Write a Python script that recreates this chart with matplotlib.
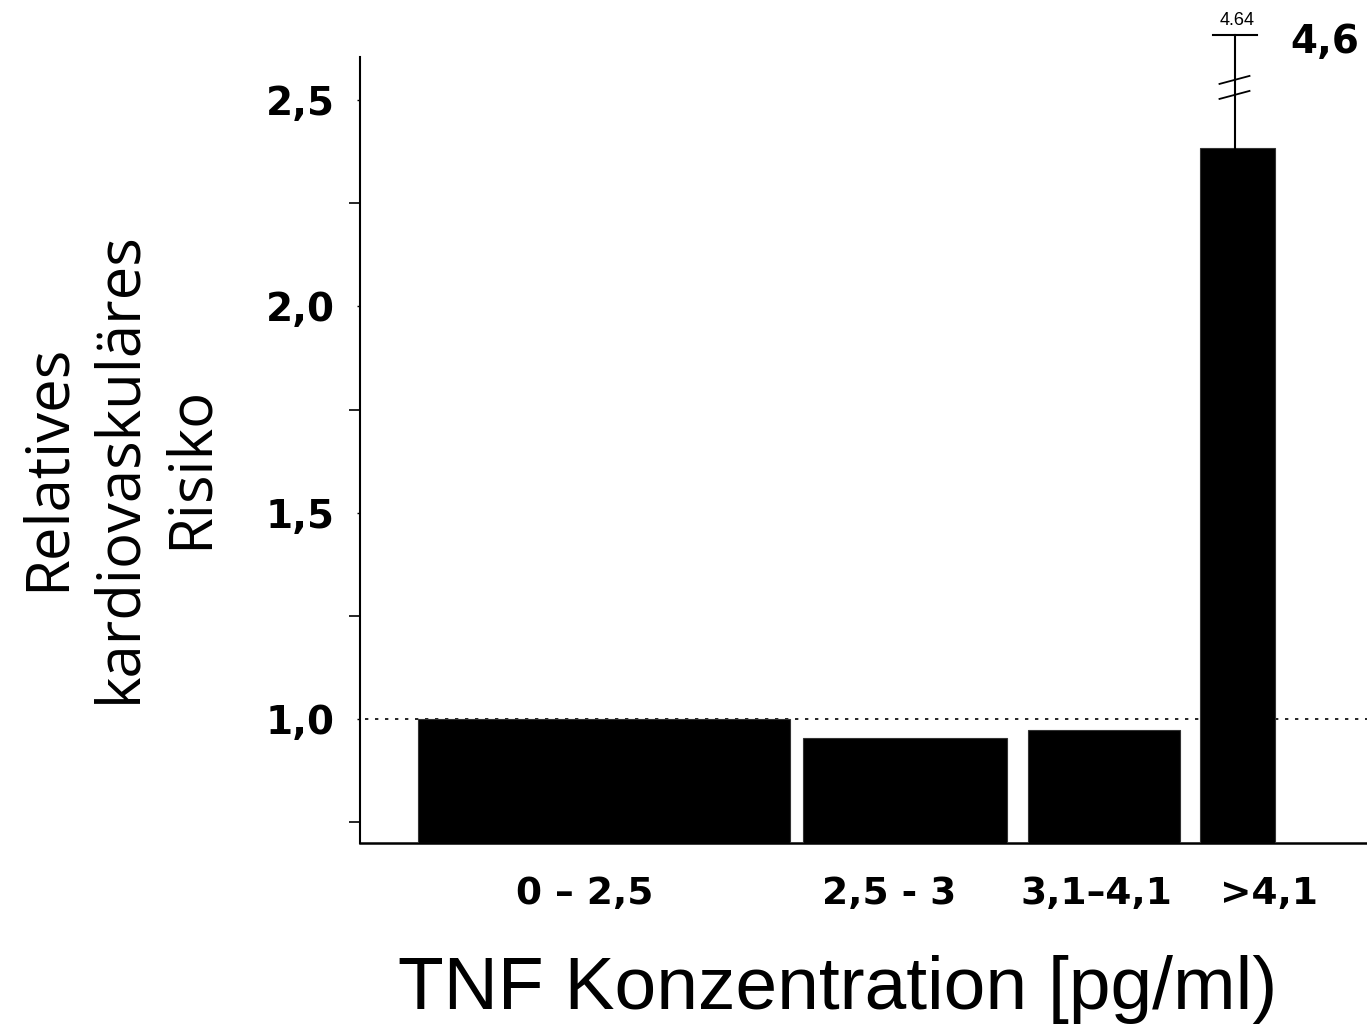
import numpy as np
import matplotlib as mpl
from matplotlib import pyplot as plt

mpl.rcParams['font.family'] = ['Liberation Sans', 'DejaVu Sans']

# data
categories = ['0 – 2,5', '2,5 - 3', '3,1–4,1', '>4,1']
risk = [1.0, 0.954, 0.973, 2.384]
upper_ci = 4.64  # upper end of the error bar on the last bar (axis is broken)
shown_label = '4,6'

# layout (x in arbitrary units = pixels from axis origin)
bar_left = [58, 443, 668, 840]
bar_width = [372, 204, 152, 75]

W, H = 1367, 1027
fig = plt.figure(figsize=(W / 100, H / 100), dpi=100)
ax = fig.add_axes([360 / W, (H - 843) / H, 1007 / W, (843 - 57) / H])

ymin, ymax = 0.70, 2.604
px = 0.5 / 206.3  # data units per pixel (y)

ax.bar(bar_left, [r - ymin for r in risk], width=bar_width, bottom=ymin,
       align='edge', color='black', edgecolor='#333333', linewidth=0.8, zorder=3)

ax.axhline(1.0, xmin=5 / 1007, color='black', linestyle=(0, (2, 4)), linewidth=1.2, zorder=1)

# error bar of last bar, running past the top of the axis
xc = bar_left[3] + bar_width[3] / 2 - 3
y_top = 2.5 + 65 * px
ax.plot([xc, xc], [risk[3], y_top], color='black', lw=1.5, clip_on=False, zorder=4)
ax.plot([xc - 22, xc + 22], [y_top, y_top], color='black', lw=1.5, clip_on=False, zorder=4)
for yb in (2.5 + 20 * px, 2.5 + 5 * px):
    ax.plot([xc - 15, xc + 15], [yb - 4 * px, yb + 4 * px], color='black', lw=1.3,
            clip_on=False, zorder=5)
ax.text(xc + 3, y_top + 6 * px, f'{upper_ci:.2f}', ha='center', va='bottom', fontsize=13,
        clip_on=False)
ax.text(930, 2.5 + 58 * px, shown_label, ha='left', va='center', fontsize=28,
        fontweight='bold', family='DejaVu Sans', clip_on=False)

ax.set_xlim(0, 1007)
ax.set_ylim(ymin, ymax)

ax.spines['right'].set_visible(False)
ax.spines['top'].set_visible(False)
ax.spines['left'].set_linewidth(1.5)
ax.spines['bottom'].set_linewidth(1.8)

ax.set_yticks([1.0, 1.5, 2.0, 2.5])
ax.set_yticklabels(['1,0', '1,5', '2,0', '2,5'], fontsize=28, fontweight='bold',
                   family='DejaVu Sans')
ax.set_yticks([0.75, 1.25, 1.75, 2.25], minor=True)
ax.tick_params(axis='y', which='major', length=2, width=1, pad=16)
ax.tick_params(axis='y', which='minor', length=8, width=1.2)

centers = [585 - 360, 889 - 360, 1096 - 360, 1269 - 360]
ax.set_xticks(centers)
ax.set_xticklabels(categories, fontsize=27, fontweight='bold', family='DejaVu Sans')
ax.tick_params(axis='x', length=0, pad=24)

ax.set_xlabel('TNF Konzentration [pg/ml)', fontsize=54)
ax.xaxis.set_label_coords((838 - 360) / 1007, -(990 - 843) / (843 - 57))
ax.xaxis.label.set_verticalalignment('center')
fig.text(119 / W, 1 - 467 / H, 'Relatives\nkardiovaskuläres\nRisiko', rotation=90,
         ha='center', va='center', fontsize=43, family='Open Sans',
         multialignment='center', linespacing=1.25)

fig.savefig('out.png', dpi=100)
